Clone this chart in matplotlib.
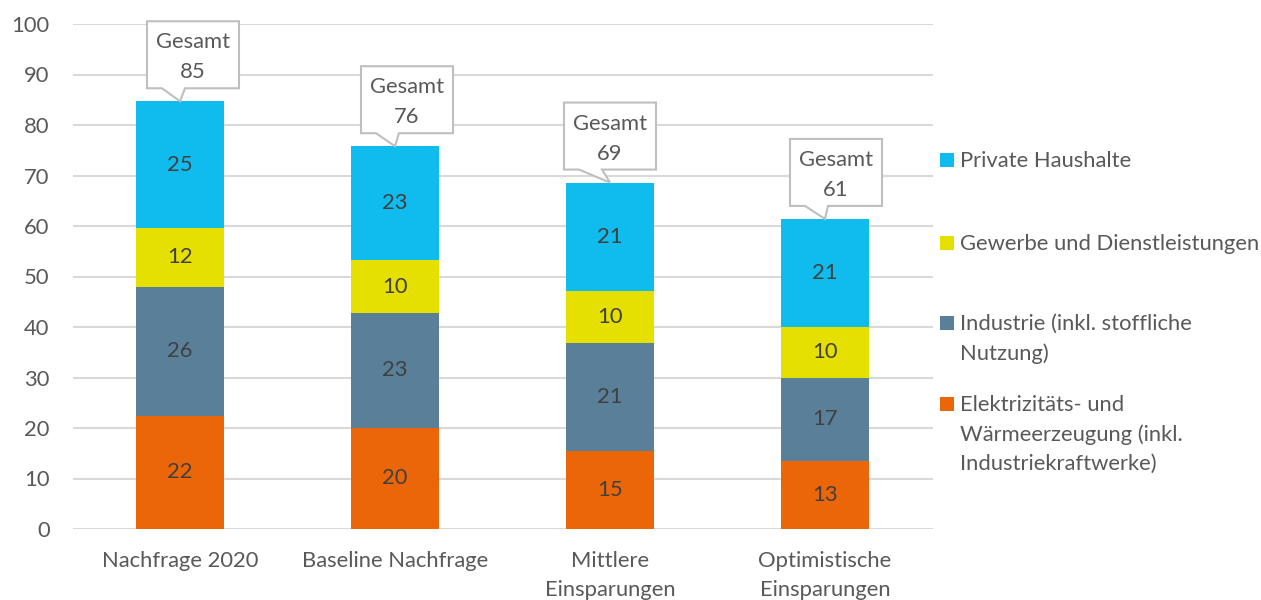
import matplotlib
matplotlib.use("Agg")
import matplotlib.pyplot as plt
import numpy as np
from matplotlib.patches import Polygon, Rectangle
from matplotlib.transforms import Affine2D, IdentityTransform

plt.rcParams['font.family'] = ['Lato', 'DejaVu Sans']

categories = ["Nachfrage 2020", "Baseline Nachfrage", "Mittlere\nEinsparungen", "Optimistische\nEinsparungen"]
series_names = ["Elektrizitäts- und\nWärmeerzeugung (inkl.\nIndustriekraftwerke)",
                "Industrie (inkl. stoffliche\nNutzung)",
                "Gewerbe und Dienstleistungen",
                "Private Haushalte"]
elektrizitaet = [22.4, 20.0, 15.4, 13.4]
industrie = [25.6, 22.8, 21.4, 16.6]
gewerbe = [11.6, 10.4, 10.4, 10.0]
haushalte = [25.1, 22.6, 21.4, 21.4]
yticks = [0, 10, 20, 30, 40, 50, 60, 70, 80, 90, 100]

colors = ["#EB6608", "#5A7F99", "#E6E000", "#10BBEE"]
txt_col = "#595959"
lbl_col = "#404040"
FS = 15.8

W, H = 1261, 600
fig = plt.figure(figsize=(W / 100, H / 100), dpi=100)
ax = fig.add_axes([72.5 / W, 71 / H, 860 / W, 505 / H])

series = [elektrizitaet, industrie, gewerbe, haushalte]
x = np.arange(len(categories))
bottom = np.zeros(len(categories))
for vals, col in zip(series, colors):
    vals = np.array(vals)
    ax.bar(x, vals, width=0.405, bottom=bottom, color=col, zorder=3)
    for xi, b, v in zip(x, bottom, vals):
        ax.text(xi, b + v / 2, f"{v:.0f}", ha='center', va='center',
                fontsize=FS, color=lbl_col, zorder=4)
    bottom = bottom + vals
totals = bottom

ax.set_xlim(-0.5, len(categories) - 0.5)
ax.set_ylim(0, 100)
ax.set_yticks(yticks)
ax.set_xticks(x)
ax.set_xticklabels(categories)
for lab in ax.get_xticklabels():
    lab.set_linespacing(1.55)
ax.yaxis.grid(True, color="#D9D9D9", linewidth=1.5, zorder=0)
ax.set_axisbelow(True)
for s in ax.spines.values():
    s.set_visible(False)
ax.tick_params(axis='both', length=0, labelsize=FS, colors=txt_col)
ax.tick_params(axis='y', pad=16.5)
ax.tick_params(axis='x', pad=16)

# callouts
box_lr = [(-33, 59), (-34, 58), (-46, 46), (-35, 57)]
for xi, t, (L, R) in zip(x, totals, box_lr):
    px, py = ax.transData.transform((xi, t))
    verts = [(L, 13), (L + 15, 13), (0, 0), (L + 38, 13), (R, 13), (R, 80), (L, 80)]
    poly = Polygon(verts, closed=True, facecolor='white', edgecolor='#BFBFBF',
                   linewidth=1.5, transform=Affine2D().translate(px, py),
                   clip_on=False, zorder=5)
    fig.patches.append(poly)
    cx = px + (L + R) / 2
    fig.text(cx, py + 59, "Gesamt", transform=IdentityTransform(), ha='center',
             va='center', fontsize=FS, color=txt_col, zorder=6)
    fig.text(cx, py + 29, f"{t:.0f}", transform=IdentityTransform(), ha='center',
             va='center', fontsize=FS, color=txt_col, zorder=6)

# legend (manual)
leg_y = [160, 243, 323, 404]  # first-line centers, top-down pixel
leg_order = [3, 2, 1, 0]
for yy, idx in zip(leg_y, leg_order):
    ypix = H - yy
    fig.patches.append(Rectangle((940, ypix - 7), 14, 14, facecolor=colors[idx],
                                 edgecolor='none', transform=IdentityTransform()))
    fig.text(960, ypix + 9, series_names[idx], transform=IdentityTransform(),
             ha='left', va='top', fontsize=FS, color=txt_col, linespacing=1.57)

fig.savefig("out.png", dpi=100, facecolor='white')
